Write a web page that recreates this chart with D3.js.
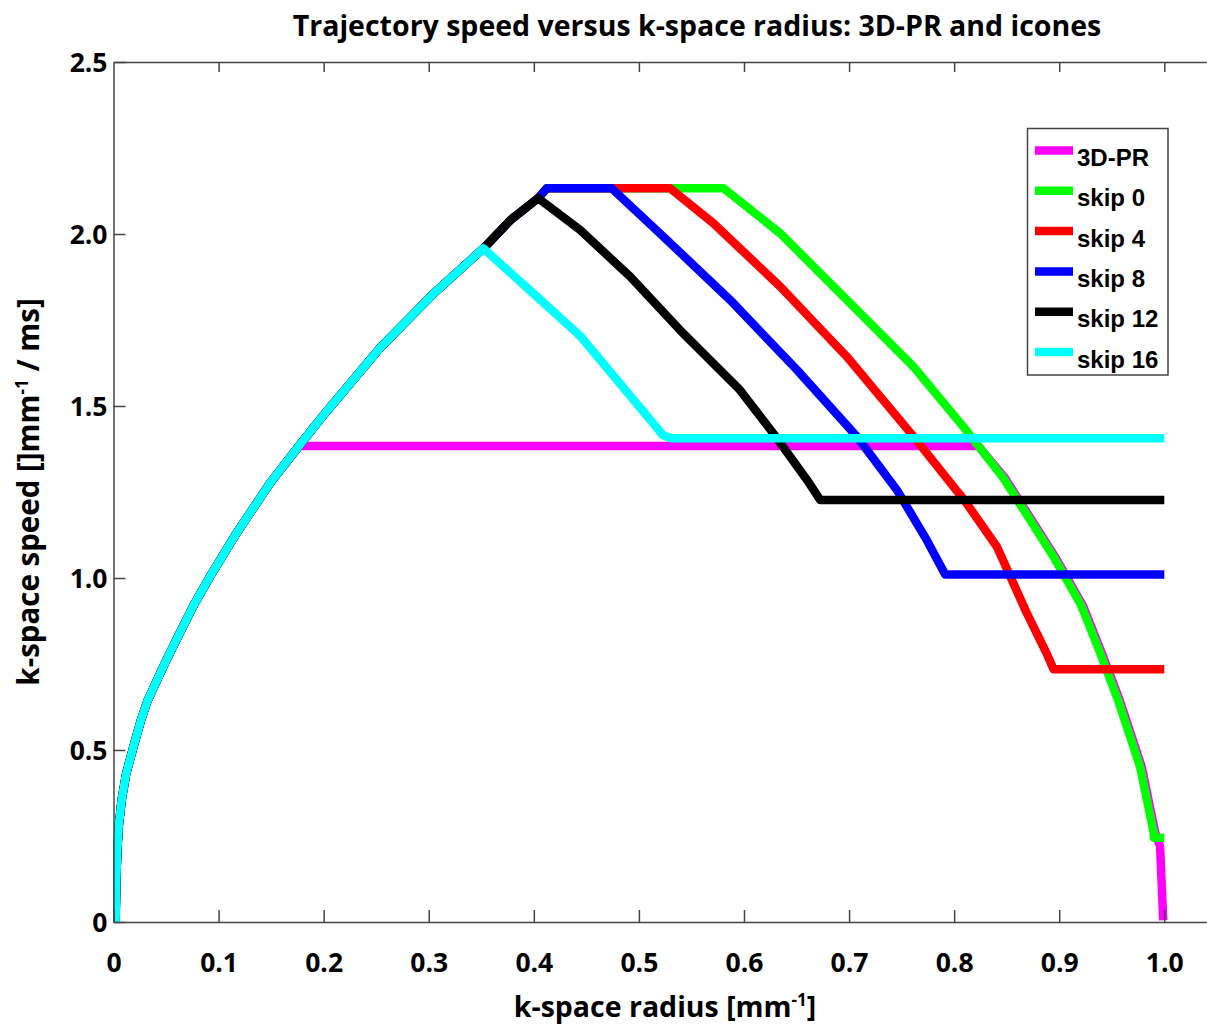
<!DOCTYPE html>
<html>
<head>
<meta charset="utf-8">
<script src="https://cdn.jsdelivr.net/npm/d3@7"></script>
<style>
  body { margin: 0; background: #fff; }
  svg { display: block; }
  .axis path, .axis line { stroke: #444; stroke-width: 1.5; }
  .axis text { font-family: 'Open Sans', sans-serif; font-weight: bold; font-size: 26.5px; fill: #000; }
</style>
</head>
<body>
<div id="chart"></div>
<script>
// Series names / legend labels
var seriesNames = ['3D-PR', 'skip 0', 'skip 4', 'skip 8', 'skip 12', 'skip 16'];
var seriesColors = ['#ff00ff', '#00ff00', '#ff0000', '#0000ff', '#000000', '#00ffff'];

// Tick labels
var xTicks = [0, 0.1, 0.2, 0.3, 0.4, 0.5, 0.6, 0.7, 0.8, 0.9, 1.0];
var yTicks = [0, 0.5, 1.0, 1.5, 2.0, 2.5];

// Shared rising part, [radius, speed]
var risePart = [
  [0.002, 0.0], [0.0025, 0.1], [0.0035, 0.2], [0.005, 0.28], [0.008, 0.36],
  [0.012, 0.43], [0.019, 0.51], [0.026, 0.585], [0.032, 0.64], [0.047, 0.74],
  [0.063, 0.84], [0.077, 0.925], [0.092, 1.005], [0.117, 1.13], [0.149, 1.276],
  [0.178, 1.39], [0.203, 1.485], [0.254, 1.67], [0.304, 1.825], [0.352, 1.958]
];
var riseTop = [[0.378, 2.041], [0.404, 2.104], [0.4124, 2.133]];

// Per series, [radius, speed]
var pr3d = [
  [0.002, 0.0], [0.0025, 0.1], [0.0035, 0.2], [0.005, 0.28], [0.008, 0.36],
  [0.012, 0.43], [0.019, 0.51], [0.026, 0.585], [0.032, 0.64], [0.047, 0.74],
  [0.063, 0.84], [0.077, 0.925], [0.092, 1.005], [0.117, 1.13], [0.149, 1.276],
  [0.177, 1.384], [0.823, 1.384], [0.8485, 1.29], [0.896, 1.062], [0.9225, 0.92],
  [0.9395, 0.79], [0.9575, 0.645], [0.9785, 0.451], [0.9915, 0.258], [0.996, 0.22],
  [0.999, 0.005]
];
var skip0 = [
  [0.5805, 2.133], [0.6345, 2.002], [0.698, 1.808], [0.7614, 1.614], [0.810, 1.435],
  [0.847, 1.29], [0.8946, 1.062], [0.921, 0.92], [0.938, 0.79], [0.956, 0.645],
  [0.977, 0.451], [0.990, 0.258], [0.990, 0.245], [1.0, 0.245]
];
var skip4 = [
  [0.5297, 2.133], [0.571, 2.031], [0.6345, 1.847], [0.698, 1.643], [0.7614, 1.411],
  [0.810, 1.225], [0.8407, 1.091], [0.8693, 0.897], [0.888, 0.781], [0.8946, 0.7346],
  [1.0, 0.7346]
];
var skip8 = [
  [0.474, 2.133], [0.5234, 1.992], [0.5869, 1.808], [0.6504, 1.605], [0.7075, 1.411],
  [0.7455, 1.256], [0.774, 1.11], [0.7915, 1.0105], [1.0, 1.0105]
];
var skip12 = [
  [0.444, 2.012], [0.4917, 1.876], [0.539, 1.721], [0.596, 1.547], [0.628, 1.42],
  [0.66, 1.285], [0.6725, 1.227], [1.0, 1.227]
];
var skip16 = [
  [0.3996, 1.827], [0.444, 1.704], [0.523, 1.415], [0.531, 1.406], [1.0, 1.406]
];

function init() {
  var w = 1207;
  var h = 1027;
  var left = 113.5;
  var top = 62;
  var bottom = 922;
  var unit = 1050.8; // px per radius unit

  var svg = d3.select('#chart').append('svg').attr('width', w).attr('height', h);

  // Scales
  var xScale = d3.scaleLinear().domain([0, 1.04]).range([left, left + 1.04 * unit]);
  var yScale = d3.scaleLinear().domain([0, 2.5]).range([bottom, top]);

  // Build full series
  var seriesData = [
    pr3d,
    risePart.concat(riseTop, skip0),
    risePart.concat(riseTop, skip4),
    risePart.concat(riseTop, skip8),
    risePart.concat(riseTop.slice(0, 2), skip12),
    risePart.concat(skip16)
  ];

  // Clip to axes box
  svg.append('clipPath').attr('id', 'plotClip')
    .append('rect')
    .attr('x', left).attr('y', top)
    .attr('width', w - left).attr('height', bottom - top);

  var line = d3.line()
    .x(function (d) { return xScale(d[0]); })
    .y(function (d) { return yScale(d[1]); });

  svg.append('g').attr('clip-path', 'url(#plotClip)')
    .selectAll('path')
    .data(seriesData)
    .enter()
    .append('path')
    .attr('d', line)
    .attr('fill', 'none')
    .attr('stroke', function (d, i) { return seriesColors[i]; })
    .attr('stroke-width', 8.5)
    .attr('stroke-linejoin', 'round');

  // Bottom axis
  var xAxis = d3.axisBottom(xScale).tickValues(xTicks).tickSize(-12).tickSizeOuter(0)
    .tickFormat(function (d) { return d === 0 ? '0' : d3.format('.1f')(d); });
  var gx = svg.append('g').attr('class', 'axis')
    .attr('transform', 'translate(0,' + bottom + ')')
    .call(xAxis);
  gx.selectAll('text').attr('y', 50).attr('dy', 0);

  // Top axis (ticks only)
  svg.append('g').attr('class', 'axis')
    .attr('transform', 'translate(0,' + top + ')')
    .call(d3.axisTop(xScale).tickValues(xTicks.slice(1)).tickSize(-10).tickSizeOuter(0).tickFormat(''));

  // Left axis
  var yAxis = d3.axisLeft(yScale).tickValues(yTicks).tickSize(-12).tickSizeOuter(0)
    .tickFormat(function (d) { return d === 0 ? '0' : d3.format('.1f')(d); });
  var gy = svg.append('g').attr('class', 'axis')
    .attr('transform', 'translate(' + left + ',0)')
    .call(yAxis);
  gy.selectAll('text').attr('x', -6).attr('dy', '0.36em');

  // Title
  svg.append('text')
    .attr('x', 697).attr('y', 36)
    .attr('text-anchor', 'middle')
    .style('font-family', "'Open Sans', sans-serif")
    .style('font-weight', 'bold')
    .style('font-size', '28.5px')
    .text('Trajectory speed versus k-space radius: 3D-PR and icones');

  // X label
  var xl = svg.append('text')
    .attr('x', 665).attr('y', 1017)
    .attr('text-anchor', 'middle')
    .style('font-family', "'Open Sans', sans-serif")
    .style('font-weight', 'bold')
    .style('font-size', '28.5px');
  xl.append('tspan').text('k-space radius [mm');
  xl.append('tspan').attr('dy', -11).style('font-size', '17px').text('-1');
  xl.append('tspan').attr('dy', 11).text(']');

  // Y label
  var yl = svg.append('text')
    .attr('transform', 'translate(39,492) rotate(-90)')
    .attr('text-anchor', 'middle')
    .style('font-family', "'Open Sans', sans-serif")
    .style('font-weight', 'bold')
    .style('font-size', '29.5px');
  yl.append('tspan').text('k-space speed []mm');
  yl.append('tspan').attr('dy', -11).style('font-size', '17px').text('-1');
  yl.append('tspan').attr('dy', 11).text(' / ms]');

  // Legend
  var lg = svg.append('g');
  lg.append('rect')
    .attr('x', 1027.5).attr('y', 128.5)
    .attr('width', 140.5).attr('height', 246.5)
    .attr('fill', '#fff').attr('stroke', '#444').attr('stroke-width', 1.5);

  var rows = lg.selectAll('g.row')
    .data(seriesNames)
    .enter()
    .append('g')
    .attr('class', 'row')
    .attr('transform', function (d, i) { return 'translate(0,' + (150.5 + i * 40.3) + ')'; });

  rows.append('line')
    .attr('x1', 1035).attr('x2', 1073)
    .attr('y1', 0).attr('y2', 0)
    .attr('stroke', function (d, i) { return seriesColors[i]; })
    .attr('stroke-width', 8.5);

  rows.append('text')
    .attr('x', 1077).attr('y', 15.5)
    .style('font-family', "'Liberation Sans', Arial, sans-serif")
    .style('font-weight', 'bold')
    .style('font-size', '24px')
    .text(function (d) { return d; });
}

window.onload = init;
</script>
</body>
</html>
